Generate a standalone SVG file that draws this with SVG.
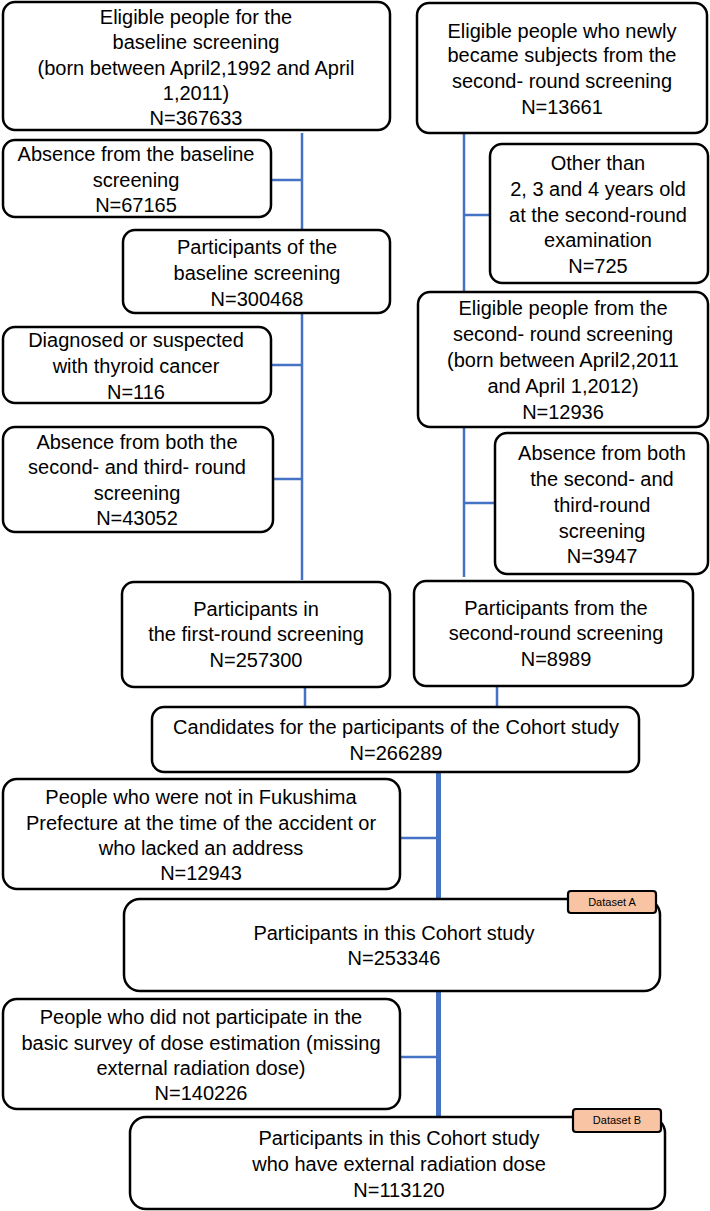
<svg xmlns="http://www.w3.org/2000/svg" width="710" height="1211" viewBox="0 0 710 1211">
<style>
.box{fill:#fff;stroke:#000;stroke-width:2.5}
.lbl{fill:#F8C4A4;stroke:#000;stroke-width:2.2}
text{font-family:"Liberation Sans",Arial,sans-serif;font-size:20px;fill:#000;text-anchor:middle}
.small{font-size:11px}
.c{stroke:#4472C4;stroke-width:2.5;fill:none}
.ct{stroke:#4472C4;stroke-width:5;fill:none}
</style>
<rect width="710" height="1211" fill="#fff"/>
<g id="connectors">
<path class="c" d="M302 133V230M302 313V580M271 180H302M271 365H302M273 479H302"/>
<path class="c" d="M464 133V292M464 427V577M490 215H464M495 503H464"/>
<path class="c" d="M305 687V707M497 686V707"/>
<path class="ct" d="M438.5 772V899M438.5 991V1117"/>
<path class="c" d="M400 838H438M400 1057H438"/>
</g>
<g id="n1"><rect class="box" x="3" y="2" width="387" height="128" rx="12"/>
<text x="196" y="24">Eligible people for the</text><text x="196" y="49">baseline screening</text><text x="196" y="75">(born between April2,1992 and April</text><text x="196" y="100">1,2011)</text><text x="196" y="125">N=367633</text></g>
<g id="n2"><rect class="box" x="417" y="3" width="290" height="130" rx="12"/>
<text x="562" y="38">Eligible people who newly</text><text x="562" y="62">became subjects from the</text><text x="562" y="88">second- round screening</text><text x="562" y="114">N=13661</text></g>
<g id="n3"><rect class="box" x="3" y="140" width="268" height="77" rx="12"/>
<text x="136" y="161">Absence from the baseline</text><text x="136" y="187">screening</text><text x="136" y="212">N=67165</text></g>
<g id="n4"><rect class="box" x="123" y="230" width="267" height="83" rx="12"/>
<text x="257" y="254">Participants of the</text><text x="257" y="280">baseline screening</text><text x="257" y="306">N=300468</text></g>
<g id="n5"><rect class="box" x="3" y="327" width="268" height="76" rx="12"/>
<text x="136" y="347">Diagnosed or suspected</text><text x="136" y="373">with thyroid cancer</text><text x="136" y="399">N=116</text></g>
<g id="n6"><rect class="box" x="3" y="427" width="270" height="105" rx="12"/>
<text x="137" y="449">Absence from both the</text><text x="137" y="474">second-  and third- round</text><text x="137" y="500">screening</text><text x="137" y="525">N=43052</text></g>
<g id="n8"><rect class="box" x="490" y="144" width="218" height="139" rx="12"/>
<text x="598" y="170">Other than</text><text x="598" y="196">2, 3 and 4 years old</text><text x="598" y="222">at the second-round</text><text x="598" y="247">examination</text><text x="598" y="273">N=725</text></g>
<g id="n9"><rect class="box" x="418" y="292" width="290" height="135" rx="12"/>
<text x="563" y="315">Eligible people from the</text><text x="563" y="341">second- round screening</text><text x="563" y="367">(born between April2,2011</text><text x="563" y="393">and April 1,2012)</text><text x="563" y="419">N=12936</text></g>
<g id="n10"><rect class="box" x="495" y="433" width="213" height="141" rx="12"/>
<text x="602" y="460">Absence from both</text><text x="602" y="486">the second- and</text><text x="602" y="512">third-round</text><text x="602" y="538">screening</text><text x="602" y="563">N=3947</text></g>
<g id="n7"><rect class="box" x="122" y="582" width="268" height="105" rx="12"/>
<text x="256" y="616">Participants in</text><text x="256" y="641">the first-round screening</text><text x="256" y="667">N=257300</text></g>
<g id="n11"><rect class="box" x="414" y="581" width="279" height="105" rx="12"/>
<text x="556" y="615">Participants from the</text><text x="556" y="640">second-round screening</text><text x="556" y="666">N=8989</text></g>
<g id="n12"><rect class="box" x="152" y="707" width="487" height="65" rx="12"/>
<text x="396" y="734">Candidates for the participants of the Cohort study</text><text x="396" y="760">N=266289</text></g>
<g id="n13"><rect class="box" x="3" y="779" width="397" height="110" rx="14"/>
<text x="201" y="804">People who were not in Fukushima</text><text x="201" y="830">Prefecture at the time of the accident or</text><text x="201" y="855">who lacked an address</text><text x="201" y="880">N=12943</text></g>
<g id="n14"><rect class="box" x="124" y="899" width="536" height="92" rx="16"/>
<text x="394" y="940">Participants in this Cohort study</text><text x="394" y="965">N=253346</text></g>
<g id="dsA"><rect class="lbl" x="568" y="891" width="88" height="22" rx="3"/>
<text class="small" x="612" y="906">Dataset A</text></g>
<g id="n15"><rect class="box" x="3" y="999" width="397" height="110" rx="14"/>
<text x="201" y="1024">People who did not participate in the</text><text x="201" y="1050">basic survey of dose estimation (missing</text><text x="201" y="1075">external radiation dose)</text><text x="201" y="1100">N=140226</text></g>
<g id="n16"><rect class="box" x="130" y="1117" width="535" height="92" rx="16"/>
<text x="399" y="1145">Participants in this Cohort study</text><text x="399" y="1171">who have external radiation dose</text><text x="399" y="1197">N=113120</text></g>
<g id="dsB"><rect class="lbl" x="573" y="1109" width="88" height="23" rx="3"/>
<text class="small" x="617" y="1124">Dataset B</text></g>
</svg>
